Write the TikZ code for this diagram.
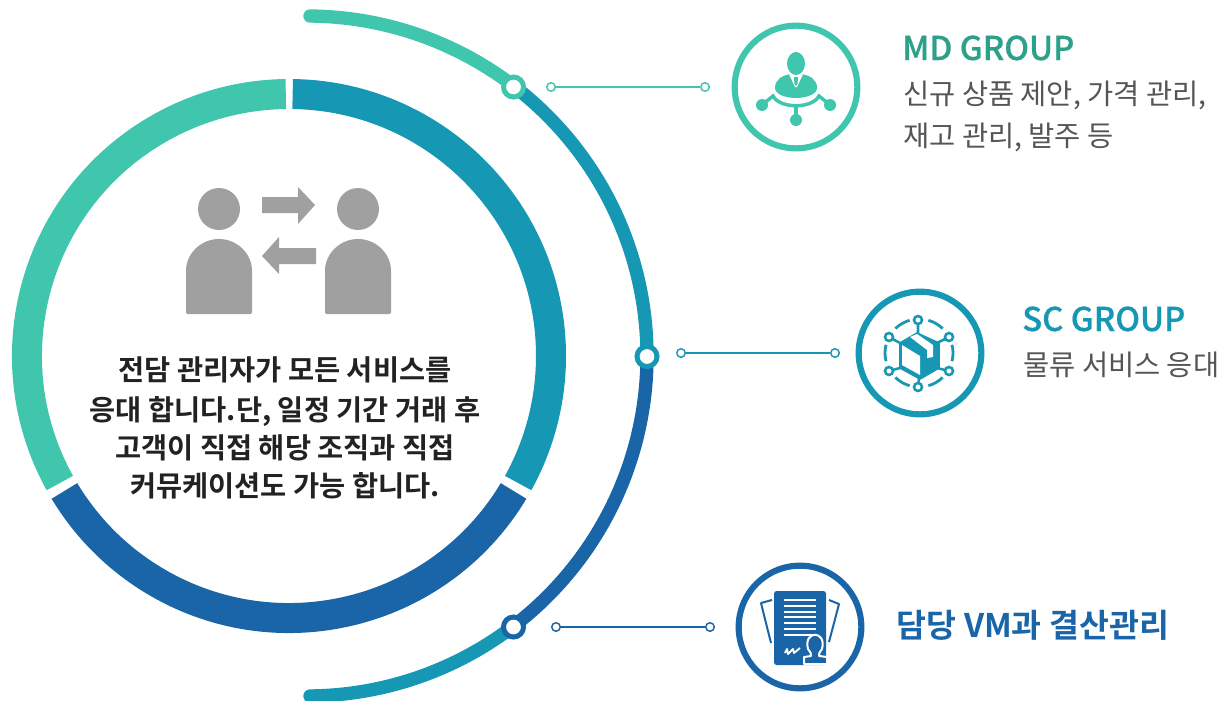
\documentclass[tikz,border=0pt]{standalone}
\usepackage{fontspec}
\setmainfont{Noto Sans CJK KR}
\newfontfamily\krr{Noto Sans CJK KR}
\newfontfamily\krm{Noto Sans CJK KR Medium}[RawFeature={embolden=0.6}]
\newfontfamily\krb{Noto Sans CJK KR Bold}[BoldFont={Noto Sans CJK KR Bold}]
\definecolor{cgreen}{HTML}{41C6AE}
\definecolor{cteal}{HTML}{1698B5}
\definecolor{cblue}{HTML}{1A64A8}
\definecolor{cgray}{HTML}{A0A0A0}
\definecolor{cdgreen}{HTML}{2CA088}
\definecolor{ctext}{HTML}{555555}
\definecolor{cdark}{HTML}{222222}
\tikzset{
 x=.75pt,y=-.75pt,
 ringarc/.style={line width=22.5pt},
 outerarc/.style={line width=10pt,line cap=round},
 marker/.style={circle,draw=#1,fill=white,line width=3.75pt,minimum size=15pt,inner sep=0pt,outer sep=0pt},
 tip/.style={circle,draw=#1,fill=white,line width=1.1pt,minimum size=6.4pt,inner sep=0pt},
 link/.style={draw=#1,line width=1.2pt},
 badge/.style={circle,draw=#1,line width=4.6pt,minimum size=92pt,inner sep=0pt,fill=white},
 hub/.style={circle,draw=cteal,fill=white,line width=1.9pt,minimum size=6pt,inner sep=0pt},
 lead/.style={anchor=base west,inner sep=0pt},
 mid/.style={anchor=base,inner sep=0pt,text=cdark},
}
\begin{document}
\begin{tikzpicture}
\useasboundingbox (0,0) rectangle (1221,700);
% main ring
\draw[ringarc,cteal] ([shift={(289,356)}]-89.2:262) arc[start angle=-89.2,end angle=29,radius=262];
\draw[ringarc,cblue] ([shift={(289,356)}]31:262) arc[start angle=31,end angle=149,radius=262];
\draw[ringarc,cgreen] ([shift={(289,356)}]151:262) arc[start angle=151,end angle=269.3,radius=262];
% outer arc
\draw[outerarc,cteal] ([shift={(307,356)}]52.6:340) arc[start angle=52.6,end angle=89.5,radius=340];
\draw[outerarc,cgreen] ([shift={(307,356)}]-52.6:340) arc[start angle=-52.6,end angle=-89.5,radius=340];
\draw[line width=10pt,cteal] ([shift={(307,356)}]-52.6:340) arc[start angle=-52.6,end angle=0,radius=340];
\draw[line width=10pt,cblue] ([shift={(307,356)}]0:340) arc[start angle=0,end angle=52.6,radius=340];
\node[marker=cgreen] (m1) at (513.5,87) {};
\node[marker=cteal] (m2) at (647,356.5) {};
\node[marker=cblue] (m3) at (513.5,627) {};
% connectors
\node[tip=cgreen] (a1) at (551,87) {};
\node[tip=cgreen] (b1) at (705,87) {};
\draw[link=cgreen] (a1) -- (b1);
\node[tip=cteal] (a2) at (681,353) {};
\node[tip=cteal] (b2) at (835,353) {};
\draw[link=cteal] (a2) -- (b2);
\node[tip=cblue] (a3) at (556,627) {};
\node[tip=cblue] (b3) at (710,627) {};
\draw[link=cblue] (a3) -- (b3);
% badges
\node[badge=cgreen] (i1) at (796,87) {};
\node[badge=cteal] (i2) at (920,353) {};
\node[badge=cblue] (i3) at (800,627) {};
% people icon
\fill[cgray] (219,209) circle (21);
\fill[cgray] (358,209) circle (21);
\fill[cgray,rounded corners=1pt] (186,314) -- (186,272) arc[start angle=180,end angle=360,radius=33] -- (252,314) -- cycle;
\fill[cgray,rounded corners=1pt] (325,314) -- (325,272) arc[start angle=180,end angle=360,radius=33] -- (391,314) -- cycle;
\fill[cgray] (262,197) -- (298,197) -- (298,187) -- (315,205) -- (298,224) -- (298,213) -- (262,213) -- cycle;
\fill[cgray] (316,248) -- (279,248) -- (279,237) -- (262,256) -- (279,274) -- (279,264) -- (316,264) -- cycle;
% MD icon
\fill[cgreen] (775,88) .. controls (775,80) and (781,76) .. (790,74) -- (802,74) .. controls (811,76) and (817,80) .. (817,88) .. controls (817,94) and (807,98) .. (796,98) .. controls (785,98) and (775,94) .. (775,88) -- cycle;
\fill[white] (788,72) -- (804,72) -- (797,87) -- (795,87) -- cycle;
\fill[cgreen] (796,63.5) ellipse (9 and 11.5);
\fill[cgreen] (794,77) -- (798,77) -- (797.6,84) -- (796,86) -- (794.4,84) -- cycle;
\draw[cgreen,line width=2.6pt] (762,105) -- (773,96) .. controls (780,109) and (812,109) .. (819,96) -- (830,105);
\draw[cgreen,line width=2.4pt] (796,105) -- (796,120);
\fill[cgreen] (762,105) circle (6) (830,105) circle (6) (796,120) circle (6);
% SC icon
\foreach \ang in {-60,0,60,120,180,240}
  \draw[cteal,line width=2.1pt] ([shift={(919,353)}]\ang-14:34) arc[start angle=\ang-14,end angle=\ang+14,radius=34];
\draw[cteal,line width=1.9pt] (918,320) -- (918,335) (949,337) -- (937,343) (949,371) -- (937,368) (918,387) -- (919,378) (889,371) -- (900,368) (889,337) -- (900,343);
\fill[cteal,line join=round,draw=cteal,line width=1.2pt] (917,333) -- (939,343) -- (939,368) -- (920,379) -- (900,368) -- (900,343) -- cycle;
\fill[white] (902,345) -- (920,356) -- (920,375) -- (902,365) -- cycle;
\fill[white] (910,337) -- (917,334) -- (933,345) -- (933,357) -- (927,358) -- (927,350) -- cycle;
\node[hub] (h1) at (918,320) {};
\node[hub] (h2) at (949,337) {};
\node[hub] (h3) at (949,371) {};
\node[hub] (h4) at (918,387) {};
\node[hub] (h5) at (889,371) {};
\node[hub] (h6) at (889,337) {};
% VM icon
\draw[cblue,line width=1.5pt,line join=round] (772,600) -- (761,603) -- (771,643);
\draw[cblue,line width=1.5pt,line join=round] (829,600) -- (839,604) -- (829,642);
\fill[cblue,rounded corners=2pt] (774,591) rectangle (826,665);
\foreach \ly in {600,606,612,617,623,629,635} \fill[white] (784,\ly-.9) rectangle (816,\ly+.9);
\draw[white,line width=1.4pt,line join=round] (785,653) -- (787,649) -- (788,654) -- (793,649) -- (794,653) -- (800,648);
\draw[white,fill=cblue,line width=1.5pt,line join=round] (804,664) -- (804,657) -- (811,656) .. controls (812,654) and (810,652) .. (808,649) .. controls (803,630) and (827,630) .. (822,649) .. controls (820,652) and (818,654) .. (819,656) -- (827,657) -- (827,664) -- cycle;
% texts
\node[lead,text=cdgreen] (t1) at (902,60) {\fontsize{24.6}{30}\krm MD GROUP};
\node[lead,text=ctext] (t2) at (903,104) {\fontsize{21.35}{26}\krr 신규 상품 제안, 가격 관리,};
\node[lead,text=ctext] (t3) at (903,146) {\fontsize{21.35}{26}\krr 재고 관리, 발주 등};
\node[lead,text=cteal] (t4) at (1022,331) {\fontsize{24.6}{30}\krm SC GROUP};
\node[lead,text=ctext] (t5) at (1023,375) {\fontsize{21.35}{26}\krr 물류 서비스 응대};
\node[lead,text=cblue] (t6) at (896.5,637) {\fontsize{24.4}{29}\krb 담당 VM과 결산관리};
\node[mid] (c1) at (285,380) {\fontsize{21.3}{26}\krb 전담 관리자가 모든 서비스를};
\node[mid] (c2) at (285,420) {\fontsize{21.3}{26}\krb 응대 합니다.단, 일정 기간 거래 후};
\node[mid] (c3) at (285,458) {\fontsize{21.3}{26}\krb 고객이 직접 해당 조직과 직접};
\node[mid] (c4) at (285,496) {\fontsize{21.3}{26}\krb 커뮤케이션도 가능 합니다.};
\end{tikzpicture}
\end{document}
